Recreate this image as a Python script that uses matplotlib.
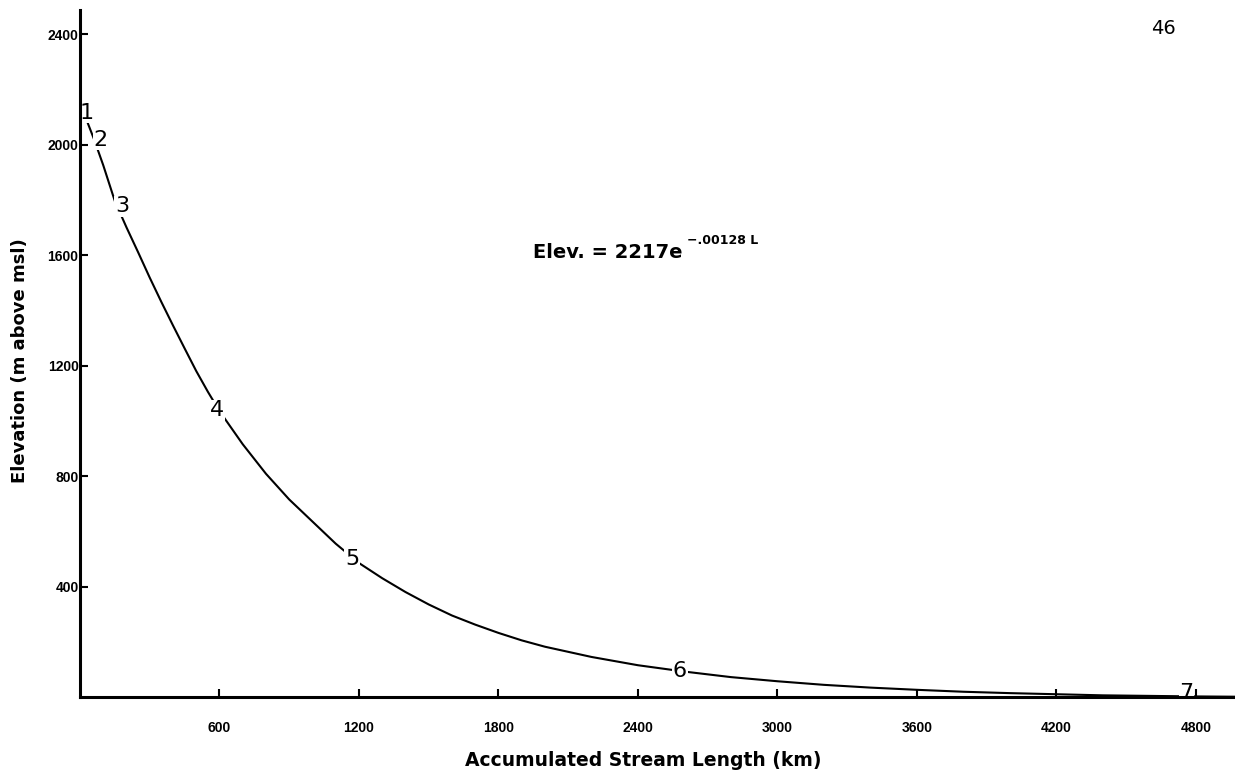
import matplotlib
matplotlib.use("Agg")
import matplotlib.pyplot as plt

# curve (km, m)
stream_km = [0, 30, 60, 100, 150, 200, 250, 300, 350, 400, 450, 500, 550, 600,
             700, 800, 900, 1000, 1100, 1200, 1300, 1400, 1500, 1600, 1700,
             1800, 1900, 2000, 2200, 2400, 2600, 2800, 3000, 3200, 3400, 3600,
             3800, 4000, 4200, 4400, 4600, 4800, 4968]
elev_m = [2150, 2085, 2020, 1925, 1795, 1700, 1610, 1518, 1430, 1345, 1262,
          1180, 1105, 1035, 915, 808, 715, 635, 555, 485, 430, 380, 335, 295,
          262, 232, 205, 182, 145, 115, 92, 72, 57, 44, 34, 26, 19, 14, 10,
          6, 4, 2, 1]

# numbered points along the profile
point_ids = ["1", "2", "3", "4", "5", "6", "7"]
point_km = [30, 90, 180, 590, 1170, 2580, 4760]
point_elev = [2115, 2017, 1776, 1038, 498, 95, 16]

x_ticks = [600, 1200, 1800, 2400, 3000, 3600, 4200, 4800]
x_tick_labels = ["600", "1200", "1800", "2400", "3000", "3600", "4200", "4800"]
y_ticks = [400, 800, 1200, 1600, 2000, 2400]
y_tick_labels = ["400", "800", "1200", "1600", "2000", "2400"]

tick_font = ["Liberation Sans", "DejaVu Sans"]
label_font = ["DejaVu Sans"]

fig = plt.figure(figsize=(12.35, 7.81), dpi=100)
ax = fig.add_axes([80 / 1235, 1 - 697 / 781, 1 - 80 / 1235, (697 - 10) / 781])

ax.plot(stream_km, elev_m, color="black", linewidth=1.5,
        solid_capstyle="round", solid_joinstyle="round", zorder=1.5)

for pid, px, py in zip(point_ids, point_km, point_elev):
    ax.text(px, py, pid, fontsize=16, ha="center", va="center",
            family="DejaVu Sans", color="black", zorder=2,
            bbox=dict(facecolor="white", edgecolor="none", pad=0.5))

ax.set_xlim(0, 4968)
ax.set_ylim(0, 2487)

ax.spines["top"].set_visible(False)
ax.spines["right"].set_visible(False)
ax.spines["left"].set_linewidth(2.2)
ax.spines["bottom"].set_linewidth(2.2)

ax.set_xticks(x_ticks)
ax.set_xticklabels(x_tick_labels, fontsize=10, fontweight="bold", family=tick_font)
ax.set_yticks(y_ticks)
ax.set_yticklabels(y_tick_labels, fontsize=10, fontweight="bold", family=tick_font)
ax.tick_params(axis="x", direction="in", length=6, width=1.5, pad=17)
ax.tick_params(axis="y", direction="in", length=6, width=1.5, pad=1)

ax.set_xlabel("Accumulated Stream Length (km)", fontsize=13.5, fontweight="bold",
              family=label_font)
ax.xaxis.set_label_coords(0.488, -0.078)
ax.set_ylabel("Elevation (m above msl)", fontsize=13, fontweight="bold",
              family=label_font)
ax.yaxis.set_label_coords(-0.044, 0.49)

# regression equation
eq = ax.text(1948, 1610, "Elev. = 2217e", fontsize=14, fontweight="bold",
             family=label_font, ha="left", va="center")
ax.annotate("\u2212.00128 L", xy=(1, 1), xycoords=eq, xytext=(3, -3),
            textcoords="offset points", fontsize=9, fontweight="bold",
            family=label_font, ha="left", va="bottom")

# page number
fig.text(1163 / 1235, 1 - 28 / 781, "46", fontsize=14, family="DejaVu Sans",
         ha="center", va="center")

fig.savefig("out.png", dpi=100, facecolor="white")
